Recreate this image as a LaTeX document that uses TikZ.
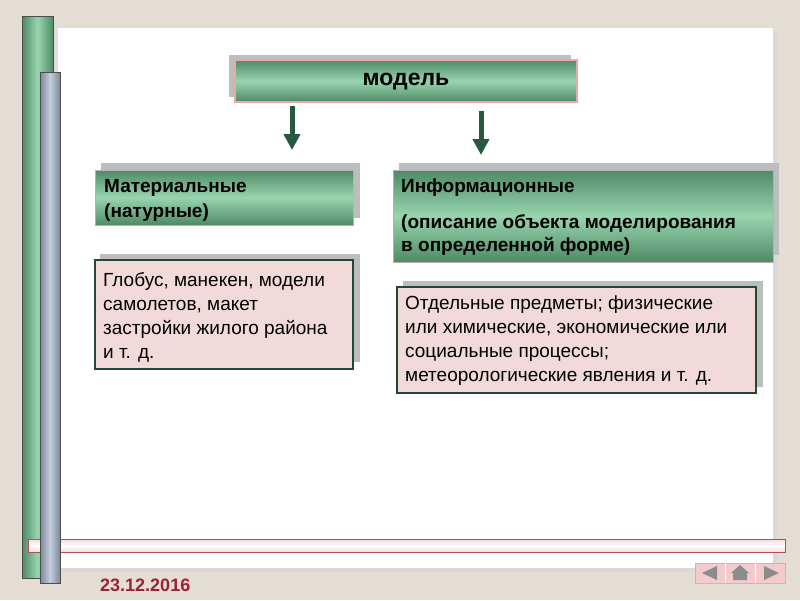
\documentclass[tikz,border=0pt]{standalone}
\usepackage{fontspec}
\setmainfont{Liberation Sans}
\usetikzlibrary{arrows.meta}
\definecolor{bg}{HTML}{E3DDD3}
\definecolor{gmid}{HTML}{98D4AE}
\definecolor{gdark}{HTML}{4E8A66}
\definecolor{pinkf}{HTML}{F2DADA}
\definecolor{pinkb}{HTML}{E7A9AC}
\definecolor{bdark}{HTML}{1F4A34}
\definecolor{arr}{HTML}{255A3E}
\definecolor{shad}{HTML}{BDBDBD}
\definecolor{datec}{HTML}{9B2335}
\definecolor{bluegray}{HTML}{C4CEDC}
\definecolor{bluedark}{HTML}{7D8898}
\begin{document}
\begin{tikzpicture}[x=1pt,y=-1pt,
  gbox/.style={top color=gdark,bottom color=gdark,middle color=gmid,shading angle=0},
  sh/.style={fill=shad},
  txt/.style={anchor=north west,align=left,inner sep=0pt}]
\useasboundingbox (0,0) rectangle (800,600);
\fill[bg] (0,0) rectangle (800,600);
% white panel
\fill[black!15] (62,32) rectangle (777,572);
\fill[white] (58,28) rectangle (773,568);
% vertical bars
\shade[left color=gdark,right color=gdark,middle color=gmid,draw=black!70] (22,16) rectangle (53,578);
% pink bar
\shade[top color=pinkf,bottom color=pinkf,middle color=white,draw=datec!80] (28,539) rectangle (785,552);
\shade[left color=bluedark,right color=bluedark,middle color=bluegray,draw=black!70] (40,72) rectangle (60,583);
% model box
\fill[sh] (229,55) rectangle (571,97);
\shade[gbox,draw=pinkb,line width=1.5pt] (235,60) rectangle (577,102);
\node[font=\fontsize{23}{28}\selectfont\bfseries] (m) at (406,82) {модель};
% arrows
\coordinate (a1s) at (292,106); \coordinate (a1e) at (292,150);
\coordinate (a2s) at (481,111); \coordinate (a2e) at (481,155);
\draw[arr,line width=5pt,-{Triangle[width=16pt,length=16pt]}] (a1s) -- (a1e);
\draw[arr,line width=5pt,-{Triangle[width=16pt,length=16pt]}] (a2s) -- (a2e);
% material
\fill[sh] (101,163) rectangle (360,218);
\shade[gbox,draw=black!30] (95,170) rectangle (353,225);
\node[txt,font=\fontsize{19}{25}\selectfont\bfseries] (mat) at (104,179) {Материальные\\(натурные)};
% info
\fill[sh] (399,163) rectangle (779,255);
\shade[gbox,draw=black!30] (393,170) rectangle (773,262);
\node[txt,font=\fontsize{19}{23}\selectfont\bfseries] (inf) at (401,179) {Информационные};
\node[txt,font=\fontsize{19}{23}\selectfont\bfseries] (infd) at (401,214) {(описание объекта моделирования\\в определенной форме)};
% left pink
\fill[sh] (100,254) rectangle (360,362);
\fill[pinkf,draw=bdark,line width=1.2pt] (95,260) rectangle (353,369);
\node[txt,font=\fontsize{19}{24}\selectfont] (l) at (103,272) {Глобус, манекен, модели\\самолетов, макет\\застройки жилого района\\и т. д.};
% right pink
\fill[sh] (403,281) rectangle (763,387);
\fill[pinkf,draw=bdark,line width=1.2pt] (397,287) rectangle (756,393);
\node[txt,font=\fontsize{19}{24}\selectfont] (r) at (405,296) {Отдельные предметы; физические\\или химические, экономические или\\социальные процессы;\\метеорологические явления и т. д.};
% nav
\fill[pinkb!60,draw=pinkb] (695,563) rectangle (785,583);
\draw[white] (725,563) -- (725,583) (755,563) -- (755,583);
\fill[black!45] (717,566) -- (717,580) -- (702,573) -- cycle;
\fill[black!45] (764,566) -- (764,580) -- (779,573) -- cycle;
\fill[black!45] (733,580) rectangle (747,572) (731,573) -- (740,565) -- (749,573) -- cycle;
\node[font=\fontsize{18}{20}\selectfont\bfseries,text=datec,anchor=west,inner sep=0pt] (d) at (100,585) {23.12.2016};
\end{tikzpicture}
\end{document}
